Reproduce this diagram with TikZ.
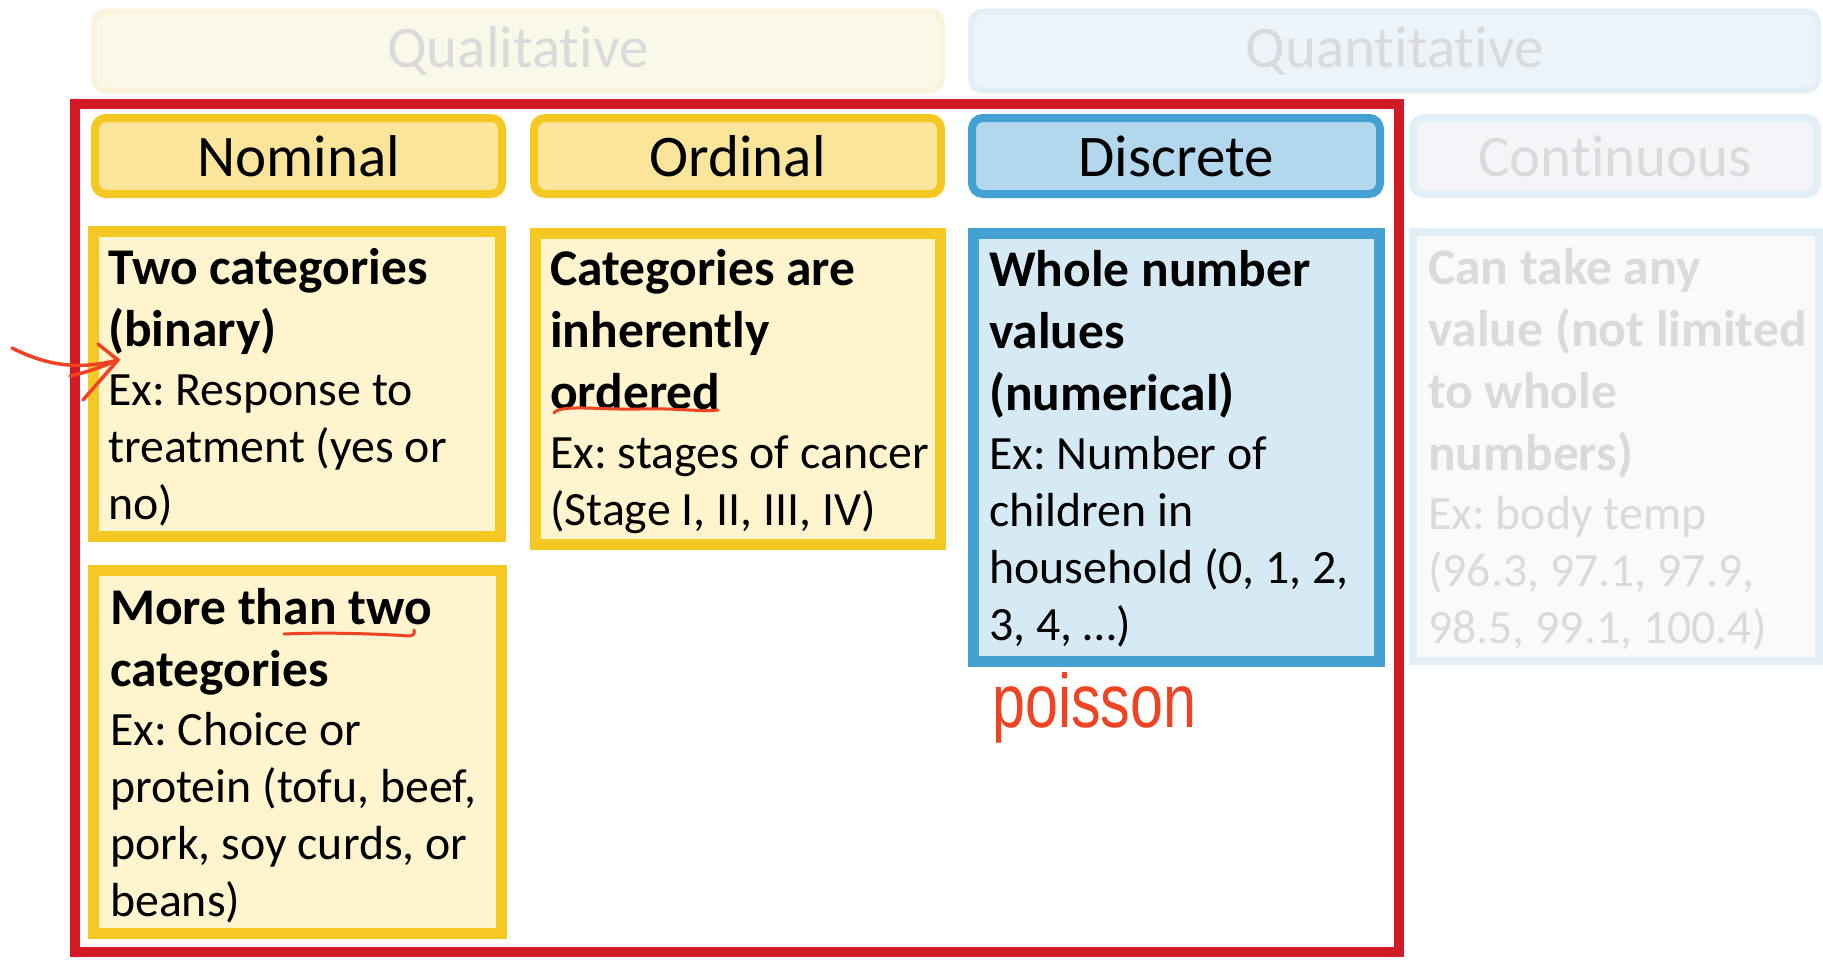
\documentclass[tikz,border=0pt]{standalone}
\usepackage{fontspec}
\usepackage{graphicx}
\setmainfont{Carlito}[Ligatures={NoCommon}]
\newfontfamily\handfont{Liberation Sans}
\definecolor{gold}{HTML}{F5C824}
\definecolor{goldfillA}{HTML}{FAE59B}
\definecolor{goldfillB}{HTML}{FEF4CD}
\definecolor{blueB}{HTML}{45A1D2}
\definecolor{bluefillA}{HTML}{B3D7EC}
\definecolor{bluefillB}{HTML}{D6EAF6}
\definecolor{qualfill}{HTML}{FAF8E8}
\definecolor{qualline}{HTML}{FCF3DD}
\definecolor{quanfill}{HTML}{ECF4FA}
\definecolor{quanline}{HTML}{E2EFF6}
\definecolor{contfill}{HTML}{F5F5F9}
\definecolor{contdesc}{HTML}{FAFAFA}
\definecolor{fadetext}{HTML}{DADADA}
\definecolor{redframe}{HTML}{D31B28}
\definecolor{handred}{HTML}{EE4423}
\newcommand\hdbold{\fontsize{51.5}{62}\selectfont\bfseries\frenchspacing\spaceskip=0pt\xspaceskip=0pt\relax}
\newcommand\hdreg{\fontsize{47.8}{57}\selectfont\mdseries\frenchspacing\spaceskip=0pt\xspaceskip=0pt\relax}
\setlength{\parindent}{0pt}
\begin{document}
\begin{tikzpicture}[x=1pt,y=-1pt,
  toplabel/.style={rounded corners=12pt, line width=6pt, inner sep=0pt,
     minimum width=848pt, minimum height=79pt, text=fadetext,
     font=\fontsize{59}{70}\selectfont},
  hdrbox/.style={rounded corners=11pt, line width=8pt, inner sep=0pt,
     minimum width=407pt, minimum height=76pt,
     font=\fontsize{59}{70}\selectfont},
  yhdr/.style={hdrbox, draw=gold, fill=goldfillA},
  ybox/.style={draw=gold, fill=goldfillB, line width=11pt},
  bbox/.style={draw=blueB, fill=bluefillB, line width=11pt},
  txt/.style={anchor=north west, inner sep=0pt, text width=480pt, align=left},
  hand/.style={draw=handred, line width=3.5pt, line cap=round, line join=round}
]
\useasboundingbox (0,0) rectangle (1823,959);
\fill[white] (0,0) rectangle (1823,959);

% top faded headers
\node[toplabel, draw=qualline, fill=qualfill] (qual) at (518,51) {Qualitative};
\node[toplabel, draw=quanline, fill=quanfill, minimum width=847pt] (quan) at (1394.5,51) {Quantitative};

% red frame
\draw[redframe, line width=10pt] (75,104) rectangle (1399,952);

% second-level headers
\node[yhdr] (nom) at (298.5,156) {Nominal};
\node[yhdr] (ord) at (737.5,156) {Ordinal};
\node[hdrbox, draw=blueB, fill=bluefillA, minimum width=408pt] (dis) at (1176,156) {Discrete};
\node[hdrbox, draw=quanline, fill=contfill, text=fadetext, minimum width=404pt] (con) at (1615,156) {Continuous};

% description boxes
\draw[ybox] (93.5,231.5) rectangle (500.5,536.5);
\draw[ybox] (535.5,233.5) rectangle (940.5,544.5);
\draw[bbox] (973.5,233.5) rectangle (1379.5,661.5);
\draw[draw=quanline, fill=contdesc, line width=8pt] (1413,232) rectangle (1819,661);
\draw[ybox] (93.5,570.5) rectangle (501.5,933.5);

% texts
\node[txt] (t1) at (108,244) {\hdbold\rule{0pt}{40pt}Two categories\\(binary)\par\vspace{2pt}
  \hdreg Ex: Response to\\treatment (yes or\\no)\par};
\node[txt] (t2) at (550,245) {\hdbold\rule{0pt}{40pt}Categories are\\inherently\\ordered\par\vspace{2pt}
  \hdreg Ex: stages of cancer\\(Stage I, II, III, IV)\par};
\node[txt] (t3) at (989,246) {\hdbold\rule{0pt}{40pt}Whole number\\values\\(numerical)\par\vspace{2pt}
  \hdreg Ex: Number of\\children in\\household (0, 1, 2,\\3, 4, …)\par};
\node[txt, text=fadetext] (t4) at (1428,244) {\hdbold\rule{0pt}{40pt}Can take any\\value (not limited\\to whole\\numbers)\par\vspace{2pt}
  \hdreg Ex: body temp\\(96.3, 97.1, 97.9,\\98.5, 99.1, 100.4)\par};
\node[txt] (t5) at (110,584) {\hdbold\rule{0pt}{40pt}More than two\\categories\par\vspace{2pt}
  \hdreg Ex: Choice or\\protein (tofu, beef,\\pork, soy curds, or\\beans)\par};

% handwritten annotations
\node[anchor=base west, inner sep=0pt, text=handred,
  font=\handfont\fontsize{76}{80}\selectfont] (poi) at (992,727) {\scalebox{0.78}[1]{poisson}};
\coordinate (a0) at (12,348);
\coordinate (a1) at (118,360);
\coordinate (a2) at (98,344);
\coordinate (a3) at (83,400);
\coordinate (a4) at (70,376);
\draw[hand] (a0) .. controls (40,362) and (72,372) .. (a1);
\draw[hand] (a4) .. controls (88,372) and (104,366) .. (a1);
\draw[hand] (a2) -- (a1) -- (a3);
\coordinate (u1) at (554,413);
\coordinate (u2) at (718,410);
\draw[hand, line width=3pt] (u1) .. controls (560,404) and (600,410) .. (640,409) .. controls (680,408) and (700,412) .. (u2);
\coordinate (v1) at (284,634);
\coordinate (v2) at (414,630);
\draw[hand, line width=3pt] (v1) .. controls (330,632) and (380,634) .. (410,636) .. controls (414,635) and (415,633) .. (v2);
\end{tikzpicture}
\end{document}
